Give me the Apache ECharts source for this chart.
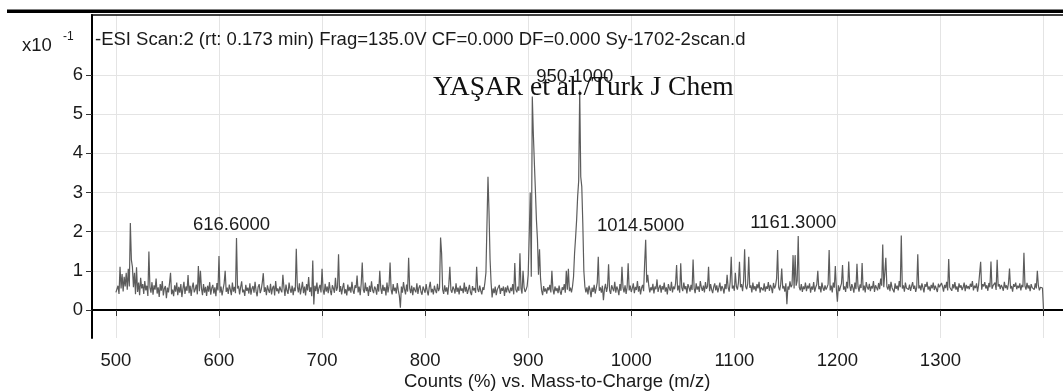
<!DOCTYPE html>
<html><head><meta charset="utf-8">
<script src="https://cdn.jsdelivr.net/npm/echarts@6/dist/echarts.min.js"></script>
<style>html,body{margin:0;padding:0;background:#fff}#c{width:1063px;height:392px}</style>
</head><body><div id="c"></div>
<script>
// m/z starts at 500, one value per m/z unit up to 1400
const mzStart = 500;
const intensity = [
/*500*/ 0.45,0.48,0.62,0.41,1.10,0.55,0.92,0.47,0.85,0.60,
/*510*/ 0.95,0.52,1.05,0.60,2.22,1.28,1.10,0.58,0.95,0.40,
/*520*/ 1.09,0.46,0.70,0.38,0.82,0.55,0.66,0.41,0.74,0.50,
/*530*/ 0.62,0.36,1.49,0.58,0.44,0.71,0.39,0.63,0.52,0.80,
/*540*/ 0.42,0.58,0.33,0.66,0.49,0.74,0.37,0.55,0.61,0.30,
/*550*/ 0.57,0.45,0.68,0.95,0.40,0.52,0.35,0.63,0.47,0.70,
/*560*/ 0.38,0.59,0.44,0.66,0.33,0.54,0.72,0.41,0.60,0.49,
/*570*/ 0.89,0.43,0.62,0.36,0.58,0.70,0.45,0.53,0.65,0.40,
/*580*/ 1.12,0.48,1.00,0.55,0.38,0.66,0.44,0.59,0.36,0.62,
/*590*/ 0.47,0.71,0.39,0.56,0.64,0.42,0.58,0.35,0.69,0.50,
/*600*/ 1.38,0.44,0.60,0.37,0.53,0.68,1.00,0.46,0.57,0.41,
/*610*/ 0.65,0.52,0.38,0.70,0.47,0.59,0.43,1.84,0.55,0.62,
/*620*/ 0.40,0.58,0.73,0.45,0.52,0.36,0.64,0.49,0.57,0.42,
/*630*/ 0.68,0.39,0.55,0.61,0.44,0.72,0.48,0.35,0.59,0.66,
/*640*/ 0.43,0.52,0.70,0.94,0.46,0.58,0.38,0.63,0.51,0.44,
/*650*/ 0.67,0.40,0.56,0.62,0.37,0.74,0.48,0.55,0.42,0.60,
/*660*/ 0.51,0.45,0.90,0.58,0.36,0.65,0.49,0.41,0.70,0.53,
/*670*/ 0.44,0.62,0.38,0.57,0.48,1.56,0.60,0.45,0.68,0.40,
/*680*/ 0.55,0.72,0.43,0.60,0.37,0.66,0.50,0.84,0.46,0.58,
/*690*/ 0.35,1.26,0.14,0.62,0.48,0.70,0.41,0.56,0.64,0.45,
/*700*/ 1.05,0.52,0.39,0.67,0.47,0.60,0.43,0.71,0.50,0.38,
/*710*/ 0.63,0.55,0.44,0.82,0.49,0.58,1.42,0.46,0.61,0.40,
/*720*/ 0.57,0.69,0.42,0.53,0.37,0.65,0.48,0.59,0.44,0.72,
/*730*/ 0.50,0.41,0.63,0.56,0.88,0.45,0.60,0.38,0.67,1.21,
/*740*/ 0.52,0.44,0.70,0.48,0.58,0.36,0.62,0.46,0.73,0.51,
/*750*/ 0.43,0.60,0.54,0.39,0.66,0.47,1.00,0.55,0.41,0.64,
/*760*/ 0.49,0.58,0.37,0.70,0.45,0.62,1.21,0.52,0.40,0.66,
/*770*/ 0.48,0.57,0.42,0.69,0.50,0.36,0.06,0.60,0.44,0.71,
/*780*/ 0.53,0.40,0.65,0.47,1.33,0.56,0.43,0.62,0.38,0.58,
/*790*/ 0.51,0.45,0.68,0.41,0.57,0.63,0.46,0.39,0.60,0.52,
/*800*/ 0.44,0.66,0.49,0.37,0.58,0.72,0.45,0.54,0.40,0.62,
/*810*/ 0.50,0.43,0.67,0.48,0.56,1.85,1.45,0.52,0.41,0.63,
/*820*/ 0.47,0.58,0.39,0.66,1.10,0.51,0.44,0.60,0.53,0.42,
/*830*/ 0.68,0.46,0.57,0.40,0.62,0.49,0.55,0.43,0.70,0.47,
/*840*/ 0.59,0.41,0.52,0.64,0.45,0.38,0.61,0.50,0.56,0.44,
/*850*/ 1.10,0.53,0.46,0.62,0.49,0.40,0.58,0.51,0.70,0.95,
/*860*/ 1.00,3.40,2.50,1.30,0.70,0.32,0.55,0.43,0.60,0.38,
/*870*/ 0.52,0.47,0.64,0.41,0.56,0.49,0.60,0.36,0.58,0.45,
/*880*/ 0.62,0.50,0.43,0.57,0.48,0.66,0.40,1.20,0.52,0.45,
/*890*/ 0.60,0.49,1.45,0.55,0.42,1.00,0.58,0.46,0.52,0.61,
/*900*/ 0.90,1.90,3.00,0.85,5.45,4.50,3.75,3.05,2.30,1.80,
/*910*/ 0.90,1.55,0.80,0.50,0.38,0.61,0.47,0.55,0.42,0.58,
/*920*/ 0.50,0.64,0.45,1.00,0.53,0.40,0.60,0.48,0.56,0.43,
/*930*/ 0.62,0.47,0.39,0.58,0.51,0.66,0.44,1.00,0.52,1.05,
/*940*/ 0.48,0.57,0.45,0.60,0.85,1.45,1.85,2.30,2.90,3.30,
/*950*/ 5.60,3.40,3.15,2.20,1.00,0.60,0.45,0.58,0.40,0.62,
/*960*/ 0.51,0.33,0.57,0.46,0.64,0.42,0.55,0.70,1.36,0.49,
/*970*/ 0.58,0.44,0.62,0.25,0.53,0.67,0.46,0.59,1.17,0.50,
/*980*/ 0.41,0.63,0.55,0.48,0.72,0.44,0.60,0.52,0.38,0.66,
/*990*/ 0.49,1.10,0.57,0.45,0.63,0.41,0.58,1.19,0.50,0.62,
/*1000*/ 0.46,0.55,0.68,0.43,0.59,0.51,0.74,0.47,0.61,0.40,
/*1010*/ 0.56,0.64,0.48,1.20,1.79,0.70,0.90,0.62,0.45,0.58,
/*1020*/ 0.50,0.67,0.42,0.60,0.53,0.78,0.46,0.57,0.64,0.44,
/*1030*/ 0.61,0.52,0.70,0.47,0.58,0.40,0.66,0.55,0.49,0.72,
/*1040*/ 0.45,0.60,0.53,0.68,1.15,0.50,0.62,0.44,1.19,0.57,
/*1050*/ 0.48,0.70,0.53,0.61,0.42,0.66,0.58,0.47,0.64,0.51,
/*1060*/ 1.29,0.55,0.43,0.68,0.52,0.60,0.46,0.74,0.58,0.49,
/*1070*/ 0.62,0.45,0.71,0.54,0.60,1.10,0.48,0.66,0.52,0.43,
/*1080*/ 0.59,0.68,0.50,0.63,0.45,0.57,0.70,0.48,0.61,0.55,
/*1090*/ 0.42,0.66,0.53,0.90,0.58,0.47,0.72,1.36,0.55,0.62,
/*1100*/ 0.49,0.95,0.60,0.52,0.70,1.23,0.58,0.66,0.48,0.74,
/*1110*/ 1.55,0.60,0.53,0.67,1.36,0.57,0.63,0.45,0.70,0.52,
/*1120*/ 0.61,0.48,0.66,0.55,0.72,0.44,0.58,0.62,0.50,0.68,
/*1130*/ 0.47,0.60,0.54,0.71,0.49,0.64,0.57,0.43,0.69,0.55,
/*1140*/ 0.62,0.80,1.53,0.58,0.50,0.66,1.06,0.55,0.61,0.47,
/*1150*/ 0.68,0.15,0.60,0.52,0.73,0.58,0.64,1.40,0.55,1.40,
/*1160*/ 0.62,0.75,1.89,0.58,0.50,0.66,0.46,0.60,0.53,0.70,
/*1170*/ 0.48,0.62,0.55,0.68,0.44,0.60,0.52,0.71,0.47,0.58,
/*1180*/ 0.65,1.00,0.53,0.61,0.45,0.70,0.56,0.49,0.63,0.52,
/*1190*/ 0.58,0.66,1.53,0.50,0.62,0.45,0.70,0.57,1.12,0.54,
/*1200*/ 0.21,0.63,0.48,0.59,0.68,1.15,0.52,0.60,0.46,0.72,
/*1210*/ 0.55,1.24,0.62,0.49,0.66,0.57,0.44,0.70,0.53,1.18,
/*1220*/ 0.60,0.47,0.65,0.56,1.20,0.50,0.62,0.45,0.71,0.58,
/*1230*/ 0.52,0.67,0.48,0.61,0.55,0.74,0.46,0.63,0.57,0.50,
/*1240*/ 0.69,0.53,0.80,0.62,1.67,0.58,0.95,1.33,0.60,0.52,
/*1250*/ 0.66,0.48,0.72,0.57,0.61,0.45,0.68,0.54,0.62,0.50,
/*1260*/ 0.74,0.58,1.90,0.55,0.63,0.47,0.70,0.56,0.61,0.52,
/*1270*/ 0.65,0.49,0.60,0.71,0.54,0.62,0.46,0.58,1.42,0.55,
/*1280*/ 0.63,0.50,0.68,0.57,0.45,0.66,0.59,0.72,0.52,0.60,
/*1290*/ 0.48,0.64,0.55,0.70,0.51,0.62,0.57,0.46,0.67,0.58,
/*1300*/ 0.53,0.69,0.60,0.47,0.64,0.56,0.72,0.50,1.30,0.58,
/*1310*/ 0.62,0.49,0.66,0.55,0.71,0.52,0.60,0.46,0.68,0.57,
/*1320*/ 0.63,0.51,0.58,0.70,0.48,0.64,0.55,0.61,0.53,0.67,
/*1330*/ 0.59,0.74,0.50,0.62,0.56,0.68,0.47,0.63,0.58,1.23,
/*1340*/ 0.52,0.66,0.60,0.71,0.55,0.63,0.49,0.69,0.58,1.24,
/*1350*/ 0.54,0.62,0.57,0.70,0.51,1.28,0.60,0.66,0.53,0.64,
/*1360*/ 0.58,0.49,0.72,0.56,0.63,0.52,0.68,1.06,0.55,0.61,
/*1370*/ 0.47,0.66,0.59,0.70,0.53,0.62,0.56,0.68,0.50,0.64,
/*1380*/ 0.58,1.46,0.61,0.52,0.69,0.55,0.63,0.48,0.66,0.57,
/*1390*/ 0.60,0.52,0.68,0.55,1.00,0.62,0.50,0.58,0.54,0.56,
/*1400*/ 0.00
];
const xTicks = [500, 600, 700, 800, 900, 1000, 1100, 1200, 1300, 1400];
const xTickLabels = [500, 600, 700, 800, 900, 1000, 1100, 1200, 1300];
const yTicks = [0, 1, 2, 3, 4, 5, 6];
const peakMz = [617, 950, 1014, 1162];
const peakText = ['616.6000', '950.1000', '1014.5000', '1161.3000'];
const titleText = '-ESI Scan:2 (rt: 0.173 min) Frag=135.0V CF=0.000 DF=0.000 Sy-1702-2scan.d';
const xAxisName = 'Counts (%) vs. Mass-to-Charge (m/z)';
const yMultiplier = 'x10';
const yExponent = '-1';
const watermark = 'YAŞAR et al./Turk J Chem';

const FONT = '"Liberation Sans", Arial, sans-serif';
const FS = 18.5;
const seriesData = intensity.map((v, i) => [mzStart + i, v]);
const markData = peakMz.map((m, k) => ({
  name: peakText[k],
  coord: [m, intensity[m - mzStart]]
}));

const chart = echarts.init(document.getElementById('c'), null, {renderer: 'canvas'});
chart.setOption({
  animation: false,
  backgroundColor: '#fff',
  grid: {left: 92, right: -5, top: 15, bottom: 54, containLabel: false},
  xAxis: {
    type: 'value', min: 476.8, max: 1418.9,
    axisLine: {show: true, lineStyle: {color: '#000', width: 2}},
    axisTick: {show: true, length: 6, customValues: xTicks, lineStyle: {color: '#333', width: 1}},
    axisLabel: {customValues: xTickLabels, formatter: v => String(v), margin: 13, fontSize: FS, fontFamily: FONT, color: '#1a1a1a'},
    splitLine: {show: true, lineStyle: {color: '#e4e4e4', width: 1}}
  },
  yAxis: {
    type: 'value', min: -0.715, max: 7.53,
    axisLine: {show: true, lineStyle: {color: '#000', width: 2}},
    axisTick: {show: true, length: 6, customValues: yTicks, lineStyle: {color: '#333', width: 1}},
    axisLabel: {customValues: yTicks, formatter: v => String(v), margin: 9, fontSize: FS, fontFamily: FONT, color: '#1a1a1a'},
    splitLine: {show: true, lineStyle: {color: '#e4e4e4', width: 1}}
  },
  series: [{
    type: 'line',
    data: seriesData,
    showSymbol: false,
    symbol: 'none',
    lineStyle: {color: '#5c5c5c', width: 1.2},
    markPoint: {
      symbol: 'circle', symbolSize: 0,
      label: {show: true, position: 'top', distance: 4, offset: [-5, 0],
        formatter: p => p.name, fontSize: FS, fontFamily: FONT, color: '#1a1a1a'},
      data: markData
    }
  }],
  graphic: [
    {type: 'rect', z: 100, shape: {x: 7, y: 9.5, width: 1060, height: 3.5}, style: {fill: '#000'}},
    {type: 'line', z: 100, shape: {x1: 91, y1: 15, x2: 1063, y2: 15}, style: {stroke: '#000', lineWidth: 1.5}},
    {type: 'text', z: 100, left: 95, top: 30, style: {text: titleText, fontSize: FS, fontFamily: FONT, fill: '#1a1a1a'}},
    {type: 'text', z: 100, left: 22, top: 36, style: {text: yMultiplier, fontSize: FS, fontFamily: FONT, fill: '#1a1a1a'}},
    {type: 'text', z: 100, left: 63, top: 31, style: {text: yExponent, fontSize: 12, fontFamily: FONT, fill: '#1a1a1a'}},
    {type: 'text', z: 100, left: 404, top: 372, style: {text: xAxisName, fontSize: FS, fontFamily: FONT, fill: '#1a1a1a'}},
    {type: 'text', z: 101, left: 433, top: 74, style: {text: watermark, fontSize: 27.5, fontFamily: '"Liberation Serif", "DejaVu Serif", serif', fill: '#111'}}
  ]
});
</script></body></html>
